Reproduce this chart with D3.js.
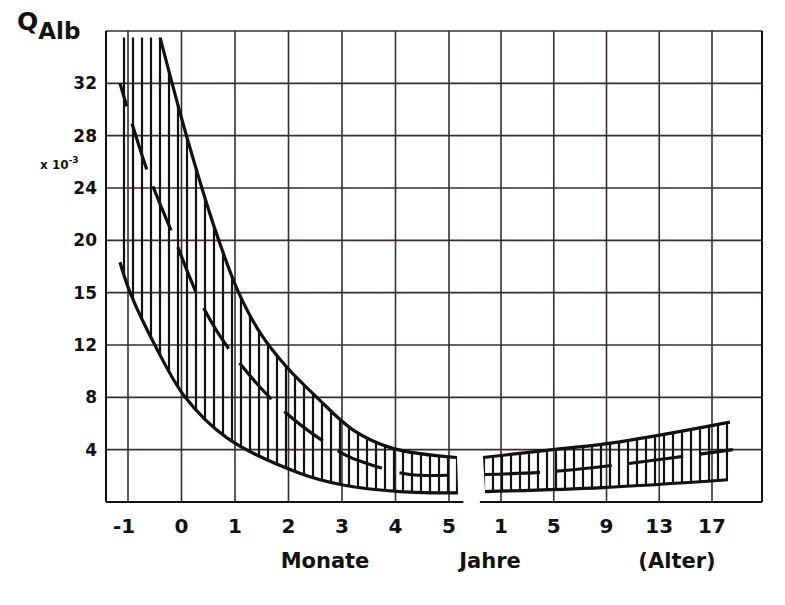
<!DOCTYPE html>
<html>
<head>
<meta charset="utf-8">
<script src="https://cdn.jsdelivr.net/npm/d3@7"></script>
<style>
  body { margin: 0; background: #fff; }
  svg { display: block; }
  text { font-family: "DejaVu Sans", sans-serif; font-weight: bold; fill: #111; }
</style>
</head>
<body>
<script>
// tick labels
var monthTicks = [-1, 0, 1, 2, 3, 4, 5];
var yearTicks = [1, 5, 9, 13, 17];
var yTicks = [4, 8, 12, 15, 20, 24, 28, 32];
var yLevels = [0, 4, 8, 12, 15, 20, 24, 28, 32, 36];   // the y grid is not linear
var bottomLabels = ["Monate", "Jahre", "(Alter)"];

// curves, left part: [age in months, Q x 10^-3]
var monthUpper = [[-0.40, 35.5], [0.10, 27.9], [0.63, 20.8], [1.06, 15.1], [1.47, 12.7],
                  [1.97, 10.3], [2.53, 8.0], [3.21, 5.5], [3.95, 4.1], [5.15, 3.4]];
var monthMiddle = [[-1.15, 32.0], [-0.63, 25.2], [-0.16, 20.4], [0.40, 14.2], [0.94, 11.4],
                   [1.90, 7.0], [3.06, 3.6], [3.43, 3.0], [4.27, 2.1], [5.30, 2.1]];
var monthLower = [[-1.15, 17.9], [-0.96, 15.0], [-0.46, 11.7], [0.07, 8.0], [0.85, 4.9],
                  [2.21, 2.2], [3.02, 1.3], [4.08, 0.8], [5.17, 0.7]];
var monthTopCorner = [-1.15, 35.5];

// curves, right part: [age in years, Q x 10^-3]
var yearUpper = [[-0.36, 3.4], [4.94, 4.0], [10.02, 4.6], [18.36, 6.1]];
var yearMiddle = [[-0.21, 2.1], [4.49, 2.3], [9.49, 2.8], [14.19, 3.4], [18.59, 4.0]];
var yearLower = [[-0.21, 0.8], [8.73, 1.1], [18.21, 1.7]];

var width = 785, height = 605;
var frameLeft = 106, frameRight = 762, frameTop = 31, frameBottom = 502;
var gridColor = "#3a2c2a";

var svg = d3.select("body").append("svg")
    .attr("width", width)
    .attr("height", height);

var xMonth = d3.scaleLinear().domain([-1, 5]).range([128, 449]);
var xYear = d3.scaleLinear().domain([1, 17]).range([501, 712]);
var y = d3.scaleLinear()
    .domain(yLevels)
    .range(yLevels.map(function(d, i) {
      return frameBottom - i * (frameBottom - frameTop) / (yLevels.length - 1);
    }));

// hatching pattern
svg.append("defs").append("pattern")
    .attr("id", "hatch")
    .attr("patternUnits", "userSpaceOnUse")
    .attr("width", 9)
    .attr("height", 10)
  .append("line")
    .attr("x1", 7).attr("x2", 7)
    .attr("y1", 0).attr("y2", 10)
    .attr("stroke", "#111")
    .attr("stroke-width", 2.2);

// grid
var grid = svg.append("g")
    .attr("stroke", gridColor)
    .attr("stroke-width", 1.6);

grid.selectAll("line.h")
    .data(yTicks.concat([36]))
  .enter().append("line")
    .attr("x1", frameLeft).attr("x2", frameRight)
    .attr("y1", function(d) { return y(d); })
    .attr("y2", function(d) { return y(d); });

grid.selectAll("line.vm")
    .data(monthTicks)
  .enter().append("line")
    .attr("x1", function(d) { return xMonth(d); })
    .attr("x2", function(d) { return xMonth(d); })
    .attr("y1", frameTop).attr("y2", frameBottom);

grid.selectAll("line.vy")
    .data(yearTicks)
  .enter().append("line")
    .attr("x1", function(d) { return xYear(d); })
    .attr("x2", function(d) { return xYear(d); })
    .attr("y1", frameTop).attr("y2", frameBottom);

// frame, bottom axis is broken between months and years
var frame = svg.append("g")
    .attr("stroke", "#111")
    .attr("stroke-width", 2)
    .attr("fill", "none");
frame.append("line").attr("x1", frameLeft).attr("x2", frameLeft).attr("y1", frameTop).attr("y2", frameBottom);
frame.append("line").attr("x1", frameRight).attr("x2", frameRight).attr("y1", frameTop).attr("y2", frameBottom);
frame.append("line").attr("x1", frameLeft).attr("x2", xMonth(5.27)).attr("y1", frameBottom).attr("y2", frameBottom);
frame.append("line").attr("x1", xYear(-0.6)).attr("x2", frameRight).attr("y1", frameBottom).attr("y2", frameBottom);

function lineFor(xs) {
  return d3.line()
      .x(function(d) { return xs(d[0]); })
      .y(function(d) { return y(d[1]); })
      .curve(d3.curveCatmullRom.alpha(0.5));
}

function bandPath(xs, lower, upper, corner) {
  var gen = lineFor(xs);
  var p = gen(lower) + gen(upper.slice().reverse()).replace(/^M/, "L");
  if (corner) p += "L" + xs(corner[0]) + "," + y(corner[1]);
  return p + "Z";
}

var bands = svg.append("g");
bands.append("path")
    .attr("d", bandPath(xMonth, monthLower, monthUpper, monthTopCorner))
    .attr("fill", "url(#hatch)");
bands.append("path")
    .attr("d", bandPath(xYear, yearLower, yearUpper))
    .attr("fill", "url(#hatch)");

var curves = [
  {xs: xMonth, data: monthUpper},
  {xs: xMonth, data: monthLower},
  {xs: xMonth, data: monthMiddle, dash: "48,18", offset: 24},
  {xs: xYear, data: yearUpper},
  {xs: xYear, data: yearLower},
  {xs: xYear, data: yearMiddle, dash: "55,17", offset: 0}
];

svg.append("g").selectAll("path")
    .data(curves)
  .enter().append("path")
    .attr("d", function(c) { return lineFor(c.xs)(c.data); })
    .attr("fill", "none")
    .attr("stroke", "#111")
    .attr("stroke-width", 3.2)
    .attr("stroke-linecap", "butt")
    .attr("stroke-dasharray", function(c) { return c.dash || null; })
    .attr("stroke-dashoffset", function(c) { return c.offset || null; });

// y labels
svg.append("g").selectAll("text")
    .data(yTicks)
  .enter().append("text")
    .attr("x", 97)
    .attr("y", function(d) { return y(d) + 6; })
    .attr("text-anchor", "end")
    .style("font-size", "17px")
    .text(function(d) { return d; });

// x labels
svg.append("g").selectAll("text")
    .data(monthTicks)
  .enter().append("text")
    .attr("x", function(d) { return xMonth(d) - (d < 0 ? 4 : 0); })
    .attr("y", 533)
    .attr("text-anchor", "middle")
    .style("font-size", "20px")
    .text(function(d) { return d < 0 ? "-" + Math.abs(d) : d; });

svg.append("g").selectAll("text")
    .data(yearTicks)
  .enter().append("text")
    .attr("x", function(d) { return xYear(d); })
    .attr("y", 533)
    .attr("text-anchor", "middle")
    .style("font-size", "20px")
    .text(function(d) { return d; });

// title Q_Alb
var title = svg.append("text").attr("x", 17).attr("y", 30);
title.append("tspan").style("font-size", "25px").text("Q");
title.append("tspan").attr("dy", 9).style("font-size", "23px").text("Alb");

// unit x 10^-3
var unit = svg.append("text").attr("x", 40).attr("y", 169).style("font-size", "12px");
unit.append("tspan").text("x 10");
unit.append("tspan").attr("dy", -6).style("font-size", "9px").text("-3");

// bottom labels
svg.append("g").selectAll("text")
    .data(bottomLabels)
  .enter().append("text")
    .attr("x", function(d, i) { return [325, 490, 677][i]; })
    .attr("y", 568)
    .attr("text-anchor", "middle")
    .style("font-size", "21px")
    .text(function(d) { return d; });
</script>
</body>
</html>
